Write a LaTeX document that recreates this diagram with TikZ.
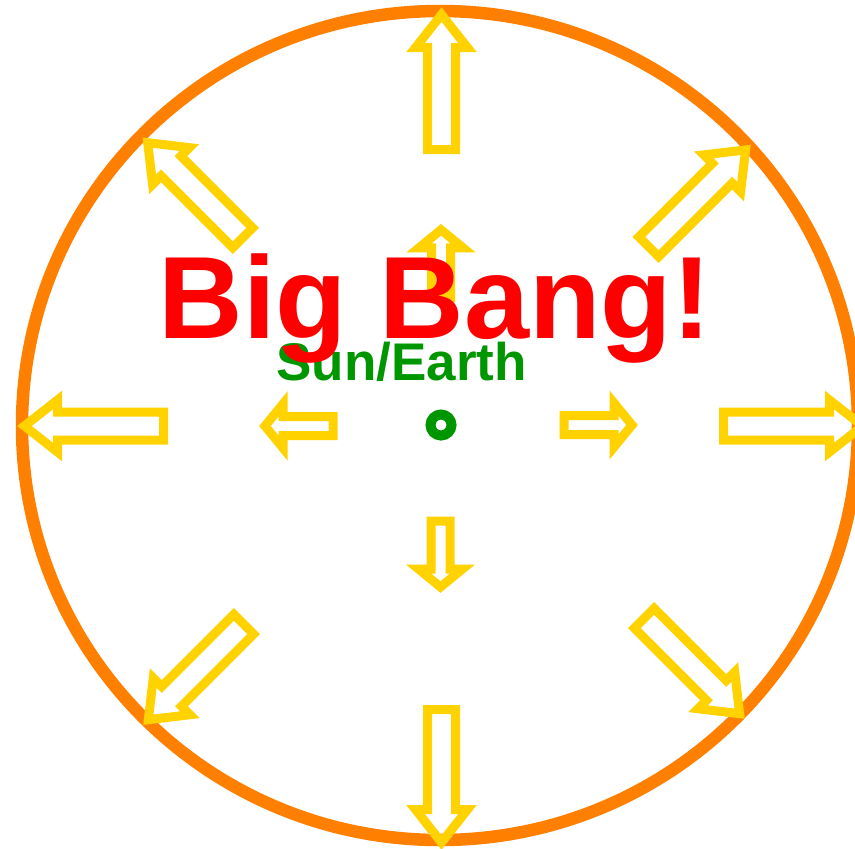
\documentclass[tikz,border=0pt]{standalone}
\usepackage{fontspec}
\setmainfont{Liberation Sans}
\definecolor{ringorange}{RGB}{255,128,0}
\definecolor{arrowyellow}{RGB}{255,210,0}
\definecolor{bangred}{RGB}{255,0,0}
\definecolor{sungreen}{RGB}{0,150,0}
\tikzset{
  yarrow/.style={draw=arrowyellow, line width=9pt, line join=miter, fill=none},
  bigring/.style={draw=ringorange, line width=12.5pt},
  sunring/.style={draw=sungreen, line width=10pt},
}
% #1 x, #2 y, #3 angle, #4 length, #5 head length, #6 shaft half width, #7 head half width
\newcommand\barrow[7]{%
  \draw[yarrow, shift={(#1,#2)}, rotate=#3]
    (0,-#6) -- ({#4-#5},-#6) -- ({#4-#5},-#7) -- (#4,0) -- ({#4-#5},#7) -- ({#4-#5},#6) -- (0,#6) -- cycle;}
\newcommand\outerarrow[4]{\barrow{#1}{#2}{#3}{#4}{33}{14}{26}}
\newcommand\innerarrow[4]{\barrow{#1}{#2}{#3}{#4}{18}{9.5}{22}}
\begin{document}
\begin{tikzpicture}[x=1pt,y=-1pt]
\useasboundingbox (0,0) rectangle (855,849);
\clip (0,0) rectangle (855,849);
\draw[bigring] (440,425.5) ellipse [x radius=418, y radius=414.5];
% outer arrows
\outerarrow{441.5}{149.6}{90}{135}
\outerarrow{441.5}{709.5}{270}{133}
\outerarrow{163.5}{426}{180}{139}
\outerarrow{723.5}{426}{0}{139}
\outerarrow{242.8}{237.8}{135}{134.5}
\outerarrow{648.7}{246.8}{45}{137}
\outerarrow{243.8}{624.2}{225}{135}
\outerarrow{644.2}{618.2}{315}{135}
% inner arrows
\innerarrow{441}{297.8}{90}{68}
\innerarrow{440.5}{521}{270}{66}
\innerarrow{333}{426}{180}{68}
\innerarrow{564}{425}{0}{68}
% sun / earth
\draw[sunring] (441,425) circle [radius=10.5];
\node[anchor=base, inner sep=0pt, text=sungreen, font=\bfseries\fontsize{53}{60}\selectfont] (sunlabel) at (401.5,380) {Sun/Earth};
\node[anchor=base, inner sep=0pt, text=bangred, font=\bfseries\fontsize{117}{130}\selectfont] (banglabel) at (435,338) {Big Bang!};
\end{tikzpicture}
\end{document}
